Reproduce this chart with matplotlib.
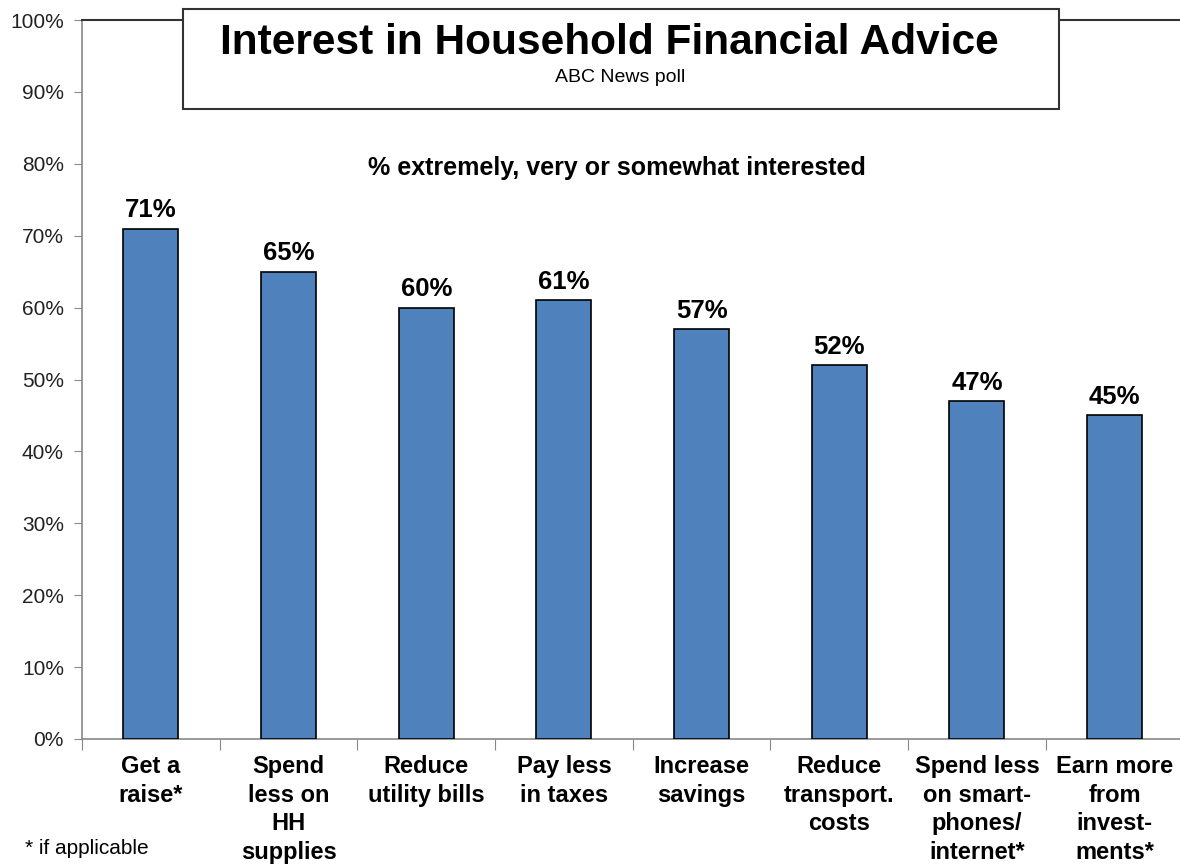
import numpy as np
import matplotlib.pyplot as plt
from matplotlib.patches import Rectangle

plt.rcParams['font.family'] = ['Liberation Sans', 'DejaVu Sans']

categories = ['Get a\nraise*', 'Spend\nless on\nHH\nsupplies', 'Reduce\nutility bills',
              'Pay less\nin taxes', 'Increase\nsavings', 'Reduce\ntransport.\ncosts',
              'Spend less\non smart-\nphones/\ninternet*', 'Earn more\nfrom\ninvest-\nments*']
values = [71, 65, 60, 61, 57, 52, 47, 45]
yticks = list(range(0, 101, 10))

W, H = 1180, 864
fig = plt.figure(figsize=(W / 100, H / 100), dpi=100)
ax = fig.add_axes([82 / W, (H - 739) / H, (W - 82) / W, (739 - 20) / H])

x = np.arange(len(values))
ax.bar(x, values, width=0.4, color='#4F81BD', edgecolor='black', linewidth=1.2, zorder=3)

for xi, v in zip(x, values):
    ax.text(xi, v + 0.9, f'{v}%', ha='center', va='bottom', fontsize=18.5, fontweight='bold')

ax.set_xlim(-0.5, 7.475)
ax.set_ylim(0, 100)
ax.set_yticks(yticks)
ax.set_yticklabels([f'{t}%' for t in yticks], fontsize=15, color='#222222')
ax.tick_params(axis='y', length=6, color='#888888', pad=7)

# category labels + ticks between categories
ax.set_xticks(np.arange(-0.5, 7.5, 1))
ax.set_xticklabels([])
ax.tick_params(axis='x', length=8, color='#888888', direction='out')
for xi, lab in zip(x, categories):
    ax.text(xi, -2.2, lab, ha='center', va='top', fontsize=17, fontweight='bold',
            linespacing=1.32)

for s in ['left', 'bottom']:
    ax.spines[s].set_color('#888888')
    ax.spines[s].set_linewidth(1.2)
ax.spines['top'].set_color('#333333')
ax.spines['top'].set_linewidth(1.5)
ax.spines['right'].set_visible(False)

# title box
box = Rectangle((183 / W, 1 - 109 / H), (1059 - 183) / W, (109 - 9) / H,
                transform=fig.transFigure, facecolor='white', edgecolor='#333333',
                linewidth=1.5, zorder=10)
fig.patches.append(box)
fig.text(609 / W, 1 - 43 / H, 'Interest in Household Financial Advice', ha='center',
         va='center', fontsize=30.5, fontweight='bold', zorder=11)
fig.text(620 / W, 1 - 78 / H, 'ABC News poll', ha='center', va='center', fontsize=14,
         zorder=11)

fig.text(617 / W, 1 - 168 / H, '% extremely, very or somewhat interested', ha='center',
         va='center', fontsize=18, fontweight='bold')
fig.text(25 / W, 1 - 848 / H, '* if applicable', ha='left', va='center', fontsize=15)

fig.savefig('out.png', dpi=100)
